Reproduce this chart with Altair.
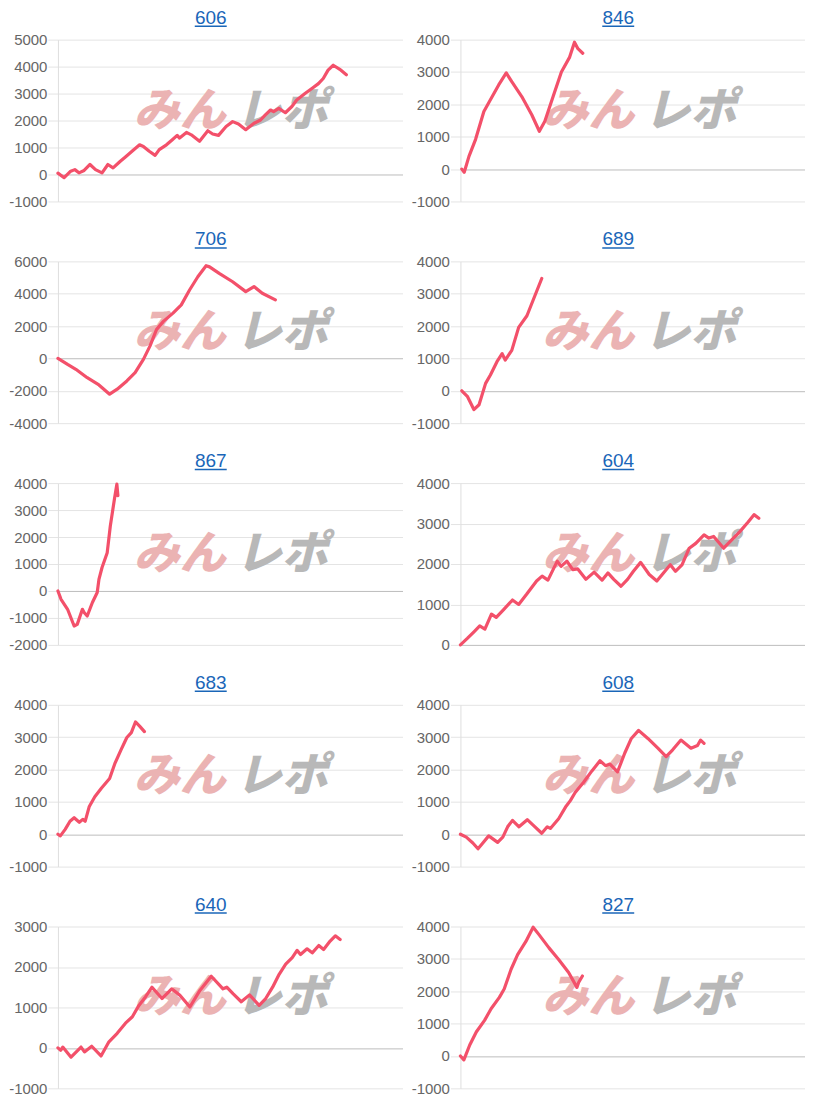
import altair as alt
import pandas as pd

# ---------------- data ----------------
titles = ["606", "846", "706", "689", "867", "604", "683", "608", "640", "827"]

x_606 = [0, 1.8, 3.7, 4.9, 6.1, 7.6, 9.3, 10.9, 12.8, 14.5, 16.0, 18.1, 19.5, 21.5, 23.7, 24.8, 26.5, 28.2,
         29.4, 31.5, 33.2, 34.6, 35.3, 37.3, 38.7, 41.1, 43.5, 44.9, 46.6, 48.8, 50.7, 52.4, 54.5, 56.9,
         58.8, 60.2, 61.7, 62.6, 64.1, 66.0, 67.9, 69.3, 71.7, 73.7, 75.6, 77.0, 78.4, 79.9, 81.8, 83.7]
y_606 = [50, -120, 120, 180, 60, 150, 370, 180, 60, 370, 245, 490, 640, 860, 1100, 1040, 860, 710,
         920, 1100, 1290, 1450, 1350, 1560, 1470, 1230, 1620, 1500, 1450, 1780, 1960, 1870, 1660, 1900,
         2020, 2210, 2390, 2330, 2450, 2290, 2520, 2760, 3000, 3190, 3370, 3560, 3870, 4050, 3900, 3700]

x_846 = [0.4, 1.1, 2.5, 4.4, 6.8, 8.7, 11.1, 13.3, 14.9, 17.8, 20.7, 22.9, 24.5, 26.9, 29.3, 31.7,
         33.1, 34.1, 35.5]
y_846 = [0, -100, 400, 920, 1780, 2140, 2600, 2970, 2700, 2240, 1680, 1170, 1480, 2240, 3000, 3460,
         3920, 3720, 3580]

x_706 = [0, 2.8, 5.2, 8.5, 11.9, 15.0, 17.2, 20.0, 22.4, 24.8, 26.7, 28.6, 30.6, 33.4, 35.8, 38.2,
         40.6, 43.0, 44.0, 46.8, 50.7, 54.5, 56.9, 59.3, 63.1]
y_706 = [0, -370, -670, -1190, -1640, -2210, -1900, -1390, -880, -60, 760, 1780, 2290, 2800, 3310,
         4230, 5050, 5730, 5660, 5260, 4740, 4130, 4440, 4030, 3620]

x_689 = [0.4, 2.0, 3.9, 5.4, 7.3, 8.7, 10.6, 12.1, 13.0, 14.9, 16.9, 19.3, 21.2, 23.6]
y_689 = [0, -170, -580, -430, 230, 490, 900, 1150, 950, 1250, 1960, 2320, 2830, 3470]

x_867 = [0, 0.9, 2.8, 4.7, 5.6, 7.1, 7.6, 8.5, 10.0, 11.4, 11.9, 12.8, 14.3, 15.2, 16.4, 17.1, 17.4]
y_867 = [0, -310, -680, -1300, -1240, -680, -800, -930, -430, -60, 430, 870, 1420, 2410, 3410, 3960, 3530]

x_604 = [0, 2.0, 4.0, 5.6, 7.1, 9.0, 10.4, 12.6, 15.1, 16.9, 19.2, 22.1, 23.7, 25.4, 28.1, 29.2, 30.9,
         32.6, 34.0, 36.4, 38.8, 41.1, 42.8, 44.5, 46.6, 48.5, 50.2, 52.3, 54.8, 57.0, 59.7, 60.9, 62.4,
         64.3, 66.4, 68.3, 70.7, 72.1, 73.5, 76.4, 78.8, 81.1, 83.5, 85.2, 86.6]
y_604 = [0, 160, 330, 470, 390, 760, 680, 880, 1110, 1000, 1250, 1580, 1700, 1600, 2070, 1940, 2070,
         1860, 1880, 1620, 1800, 1600, 1780, 1620, 1450, 1620, 1820, 2040, 1740, 1580, 1860, 1980, 1820,
         1980, 2390, 2510, 2720, 2640, 2680, 2390, 2600, 2800, 3040, 3220, 3130]

x_683 = [0, 0.7, 2.1, 3.5, 4.7, 6.2, 7.2, 7.9, 9.1, 10.7, 12.6, 15.0, 16.5, 18.4, 20.0, 21.3, 22.5,
         23.7, 25.1]
y_683 = [0, -50, 150, 400, 510, 370, 460, 400, 860, 1160, 1420, 1720, 2180, 2630, 2990, 3140, 3470,
         3340, 3170]

x_608 = [0, 1.7, 3.6, 5.1, 6.5, 8.2, 10.8, 12.3, 13.7, 15.1, 17.0, 19.4, 21.4, 23.6, 25.2, 26.1, 28.5,
         30.5, 31.9, 33.3, 35.7, 38.1, 40.5, 42.1, 43.4, 45.6, 47.7, 49.6, 51.7, 54.4, 57.3, 59.7, 61.6,
         64.0, 66.9, 68.8, 69.7, 70.7]
y_608 = [0, -90, -270, -450, -270, -50, -250, -90, 230, 430, 230, 450, 250, 30, 230, 180, 480,
         840, 1040, 1290, 1600, 1950, 2270, 2120, 2170, 1930, 2510, 2960, 3210, 2960, 2660, 2400, 2610,
         2910, 2660, 2740, 2910, 2810]

x_640 = [0, 0.8, 1.4, 3.8, 6.7, 7.7, 9.8, 12.5, 14.8, 17.2, 19.6, 21.6, 23.5, 25.4, 27.3, 30.2, 33.0,
         35.4, 38.3, 41.2, 44.5, 47.9, 49.0, 50.8, 53.2, 55.6, 58.4, 60.3, 62.3, 64.2, 66.1, 68.0, 69.4,
         70.4, 72.3, 73.8, 75.7, 77.1, 79.0, 80.5, 81.9]
y_640 = [0, -60, 20, -230, 20, -100, 40, -200, 150, 360, 610, 770, 1050, 1260, 1500, 1220, 1460,
         1300, 1010, 1420, 1770, 1460, 1500, 1340, 1140, 1310, 1050, 1220, 1500, 1820, 2070, 2230, 2410,
         2310, 2450, 2350, 2530, 2430, 2640, 2770, 2680]

x_827 = [0, 1.0, 2.7, 4.6, 7.0, 8.9, 11.3, 12.7, 14.7, 16.6, 19.0, 21.1, 22.8, 25.7, 28.5, 31.4, 33.8,
         34.3, 35.4]
y_827 = [0, -120, 340, 740, 1100, 1460, 1810, 2070, 2680, 3130, 3540, 3980, 3750, 3340, 2980, 2580,
         2120, 2270, 2470]

ticks_606 = [-1000, 0, 1000, 2000, 3000, 4000, 5000]
ticks_846 = [-1000, 0, 1000, 2000, 3000, 4000]
ticks_706 = [-4000, -2000, 0, 2000, 4000, 6000]
ticks_689 = [-1000, 0, 1000, 2000, 3000, 4000]
ticks_867 = [-2000, -1000, 0, 1000, 2000, 3000, 4000]
ticks_604 = [0, 1000, 2000, 3000, 4000]
ticks_683 = [-1000, 0, 1000, 2000, 3000, 4000]
ticks_608 = [-1000, 0, 1000, 2000, 3000, 4000]
ticks_640 = [-1000, 0, 1000, 2000, 3000]
ticks_827 = [-1000, 0, 1000, 2000, 3000, 4000]

watermark_left = ["みん"]
watermark_right = ["レポ"]

series = [
    (x_606, y_606, ticks_606), (x_846, y_846, ticks_846),
    (x_706, y_706, ticks_706), (x_689, y_689, ticks_689),
    (x_867, y_867, ticks_867), (x_604, y_604, ticks_604),
    (x_683, y_683, ticks_683), (x_608, y_608, ticks_608),
    (x_640, y_640, ticks_640), (x_827, y_827, ticks_827),
]

# ---------------- style ----------------
W, H = 345, 162
RED = "#f3506a"
TITLE_BLUE = "#1a66b8"
FONT = "Liberation Sans"


def panel(title, xs, ys, ticks, col):
    tx = 153 if col == 0 else 158
    wx = 122 if col == 0 else 128
    df = pd.DataFrame({"x": xs, "y": ys})
    yscale = alt.Scale(domain=[ticks[0], ticks[-1]], nice=False, zero=False)
    xscale = alt.Scale(domain=[0, 100], nice=False, zero=False)

    wm1 = alt.Chart(pd.DataFrame({"t": watermark_left})).mark_text(
        font="Noto Sans CJK JP", fontSize=46, fontWeight=900, fontStyle="italic",
        color="#ebb3b3", baseline="middle", align="center"
    ).encode(text="t:N", x=alt.value(wx), y=alt.value(72))
    wm2 = alt.Chart(pd.DataFrame({"t": watermark_right})).mark_text(
        font="Noto Sans CJK JP", fontSize=46, fontWeight=900, fontStyle="italic",
        color="#b8b8b8", baseline="middle", align="center"
    ).encode(text="t:N", x=alt.value(wx + 102), y=alt.value(72))

    line = alt.Chart(df).mark_line(
        color=RED, strokeWidth=3.2, strokeJoin="round", strokeCap="round"
    ).encode(
        x=alt.X("x:Q", scale=xscale, axis=None),
        y=alt.Y("y:Q", scale=yscale, axis=alt.Axis(
            values=ticks, title=None, labelExpr="'' + datum.value",
            labelFont=FONT, labelFontSize=15, labelColor="#666666",
            labelPadding=1, tickSize=10, tickColor="#e4e4e4",
            domain=True, domainColor="#dedede",
            grid=True,
            gridColor={"condition": {"test": "datum.value === 0", "value": "#bdbdbd"},
                       "value": "#e4e4e4"},
        )),
    )

    ttl = alt.Chart(pd.DataFrame({"t": [title]})).mark_text(
        font=FONT, fontSize=19, color=TITLE_BLUE, align="center", baseline="alphabetic"
    ).encode(text="t:N", x=alt.value(tx), y=alt.value(-16))
    underline = alt.Chart(pd.DataFrame({"t": [title]})).mark_rule(
        color=TITLE_BLUE, strokeWidth=1.5
    ).encode(x=alt.value(tx - 16), x2=alt.value(tx + 16), y=alt.value(-13.5))

    return alt.layer(wm1, wm2, line, ttl, underline).properties(width=W, height=H)


panels = [panel(t, *s, i % 2) for i, (t, s) in enumerate(zip(titles, series))]

chart = alt.concat(
    *panels, columns=2, spacing={"row": 60, "column": 58}, bounds="flush"
).properties(padding=0).configure_view(stroke=None)

chart.save("out.html", embed_options={"renderer": "svg", "actions": False})
